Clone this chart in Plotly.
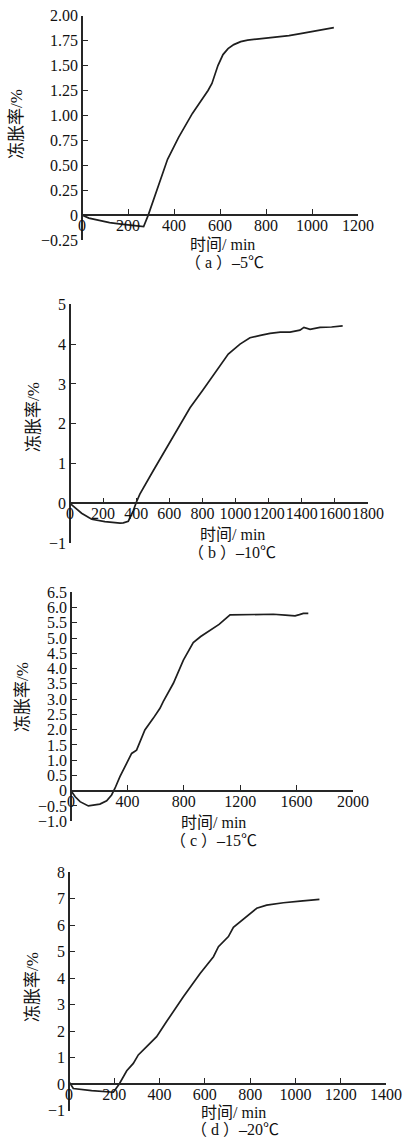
import plotly.graph_objects as go

# ---------------- data ----------------
time_a = [0, 30, 70, 120, 170, 220, 268, 288, 318, 345, 372, 420, 480, 548, 565, 591, 613, 635, 660, 690, 720, 760, 800, 850, 900, 950, 1000, 1050, 1095]
rate_a = [0, -0.03, -0.05, -0.075, -0.09, -0.10, -0.115, 0, 0.20, 0.40, 0.56, 0.78, 1.02, 1.25, 1.32, 1.50, 1.61, 1.67, 1.71, 1.74, 1.755, 1.765, 1.775, 1.785, 1.80, 1.82, 1.84, 1.86, 1.88]

time_b = [0, 70, 131, 211, 302, 322, 352, 382, 400, 422, 500, 600, 664, 725, 805, 885, 956, 1027, 1087, 1150, 1208, 1270, 1329, 1389, 1413, 1450, 1510, 1580, 1647]
rate_b = [0, -0.25, -0.40, -0.46, -0.50, -0.49, -0.45, -0.19, 0.02, 0.23, 0.80, 1.52, 1.97, 2.40, 2.86, 3.34, 3.75, 4.0, 4.16, 4.22, 4.27, 4.30, 4.30, 4.35, 4.42, 4.37, 4.42, 4.43, 4.46]

time_c = [0, 30, 64, 123, 205, 253, 288, 312, 347, 394, 430, 465, 490, 524, 583, 631, 654, 726, 797, 867, 920, 974, 1050, 1128, 1200, 1300, 1435, 1520, 1589, 1620, 1648, 1683]
rate_c = [0, -0.2, -0.36, -0.50, -0.44, -0.33, -0.14, 0.08, 0.46, 0.90, 1.22, 1.33, 1.6, 1.99, 2.37, 2.70, 2.92, 3.52, 4.28, 4.85, 5.05, 5.21, 5.45, 5.76, 5.77, 5.78, 5.78, 5.75, 5.73, 5.77, 5.81, 5.81]

time_d = [0, 19, 100, 196, 222, 255, 284, 306, 343, 387, 431, 505, 579, 608, 638, 660, 704, 726, 785, 829, 873, 947, 1021, 1106]
rate_d = [0.09, -0.17, -0.25, -0.31, 0, 0.50, 0.78, 1.1, 1.41, 1.79, 2.36, 3.30, 4.18, 4.5, 4.81, 5.19, 5.57, 5.92, 6.32, 6.64, 6.76, 6.85, 6.91, 6.98]

yticks_a = [-0.25, 0, 0.25, 0.5, 0.75, 1.0, 1.25, 1.5, 1.75, 2.0]
ylabels_a = ["\u22120.25", "0", "0.25", "0.50", "0.75", "1.00", "1.25", "1.50", "1.75", "2.00"]
xticks_a = [0, 200, 400, 600, 800, 1000, 1200]

yticks_b = [-1, 0, 1, 2, 3, 4, 5]
ylabels_b = ["\u22121", "0", "1", "2", "3", "4", "5"]
xticks_b = [0, 200, 400, 600, 800, 1000, 1200, 1400, 1600, 1800]

yticks_c = [-1.0, -0.5, 0, 0.5, 1.0, 1.5, 2.0, 2.5, 3.0, 3.5, 4.0, 4.5, 5.0, 5.5, 6.0, 6.5]
ylabels_c = ["\u22121.0", "\u22120.5", "0", "0.5", "1.0", "1.5", "2.0", "2.5", "3.0", "3.5", "4.0", "4.5", "5.0", "5.5", "6.0", "6.5"]
xticks_c = [0, 400, 800, 1200, 1600, 2000]

yticks_d = [-1, 0, 1, 2, 3, 4, 5, 6, 7, 8]
ylabels_d = ["\u22121", "0", "1", "2", "3", "4", "5", "6", "7", "8"]
xticks_d = [0, 200, 400, 600, 800, 1000, 1200, 1400]

x_title = "时间/ min"
y_title = "冻胀率/%"
captions = ["（ a ）–5℃", "（ b ）–10℃", "（ c ）–15℃", "（ d ）–20℃"]

# ---------------- layout geometry ----------------
W, H = 406, 1139
def fx(p):
    return p / W
def fy(p):
    return 1 - p / H

panels = [
    dict(t=time_a, v=rate_a, xr=[0, 1200], yr=[-0.25, 2.0], xt=xticks_a, yt=yticks_a, yl=ylabels_a,
         x0=82, x1=358, ytop=15.7, ybot=240.0, xt_x=222, xt_y=244.5, cap_x=224, cap_y=262, yt_x=17, yt_y=124),
    dict(t=time_b, v=rate_b, xr=[0, 1800], yr=[-1, 5], xt=xticks_b, yt=yticks_b, yl=ylabels_b,
         x0=70, x1=368, ytop=304.3, ybot=543.1, xt_x=232, xt_y=535, cap_x=232, cap_y=552, yt_x=33, yt_y=417),
    dict(t=time_c, v=rate_c, xr=[0, 2000], yr=[-1, 6.5], xt=xticks_c, yt=yticks_c, yl=ylabels_c,
         x0=71, x1=353, ytop=592.3, ybot=821.2, xt_x=213, xt_y=822.5, cap_x=213, cap_y=840, yt_x=22, yt_y=697),
    dict(t=time_d, v=rate_d, xr=[0, 1400], yr=[-1, 8], xt=xticks_d, yt=yticks_d, yl=ylabels_d,
         x0=69, x1=386, ytop=872.3, ybot=1110.5, xt_x=233, xt_y=1112, cap_x=235, cap_y=1129, yt_x=32, yt_y=987),
]

LINE = "#1e1e1e"
AXC = "#262626"
TICKFONT = dict(family="Liberation Serif, Times New Roman, serif", size=16, color="#111111")
TITLEFONT = dict(family="Liberation Serif, Noto Sans CJK SC, serif", size=16, color="#111111")
YTITLEFONT = dict(family="Liberation Serif, Noto Sans CJK SC, serif", size=17, color="#111111")

fig = go.Figure()
layout = dict(width=W, height=H, margin=dict(l=0, r=0, t=0, b=0),
              paper_bgcolor="white", plot_bgcolor="white", showlegend=False)
annotations = []

for i, p in enumerate(panels):
    n = "" if i == 0 else str(i + 1)
    fig.add_trace(go.Scatter(x=p["t"], y=p["v"], mode="lines",
                             line=dict(color=LINE, width=1.7),
                             xaxis="x" + n, yaxis="y" + n, hoverinfo="skip"))
    yd0, yd1 = fy(p["ybot"]), fy(p["ytop"])
    ymin, ymax = p["yr"]
    zero_pos = yd0 + (0 - ymin) / (ymax - ymin) * (yd1 - yd0)
    layout["xaxis" + n] = dict(
        domain=[fx(p["x0"]), fx(p["x1"])], range=p["xr"], anchor="free", position=zero_pos,
        showgrid=False, zeroline=False, showline=True, linecolor=AXC, linewidth=1.5,
        ticks="inside", ticklen=5, tickwidth=1.3, tickcolor=AXC, tickangle=0,
        ticklabelstandoff=-4,
        tickvals=p["xt"], ticktext=[str(v) for v in p["xt"]], tickfont=TICKFONT,
        automargin=False, fixedrange=True)
    layout["yaxis" + n] = dict(
        domain=[yd0, yd1], range=p["yr"], anchor="free", position=fx(p["x0"]),
        showgrid=False, zeroline=False, showline=True, linecolor=AXC, linewidth=1.5,
        ticks="inside", ticklen=5, tickwidth=1.3, tickcolor=AXC, tickangle=0,
        tickvals=p["yt"], ticktext=p["yl"], tickfont=TICKFONT,
        automargin=False, fixedrange=True)
    annotations.append(dict(text=x_title, x=fx(p["xt_x"]), y=fy(p["xt_y"]), xref="paper", yref="paper",
                            xanchor="center", yanchor="middle", showarrow=False, font=TITLEFONT))
    annotations.append(dict(text=captions[i], x=fx(p["cap_x"]), y=fy(p["cap_y"]), xref="paper", yref="paper",
                            xanchor="center", yanchor="middle", showarrow=False, font=TITLEFONT))
    annotations.append(dict(text=y_title, x=fx(p["yt_x"]), y=fy(p["yt_y"]), xref="paper", yref="paper",
                            xanchor="center", yanchor="middle", textangle=-90, showarrow=False, font=YTITLEFONT))

layout["annotations"] = annotations
fig.update_layout(**layout)
fig.write_html("out.html", config={"displayModeBar": False},
               post_script="document.body.style.margin='0';document.body.style.overflow='hidden';")
